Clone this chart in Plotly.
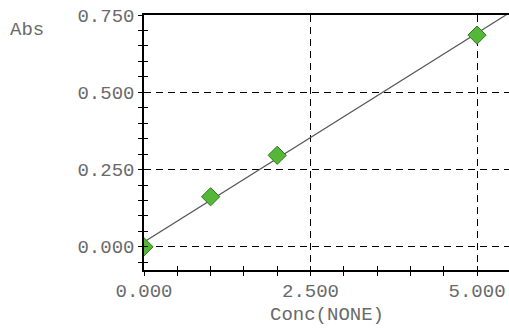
import numpy as np
import plotly.graph_objects as go

conc = [0.0, 1.0, 2.0, 5.0]
absorb = [0.0, 0.162, 0.296, 0.685]
x_ticks = [0.0, 2.5, 5.0]
y_ticks = [0.0, 0.25, 0.5, 0.75]
x_range = [0.0, 5.48]
y_range = [-0.075, 0.75]

slope, icpt = np.polyfit(conc, absorb, 1)
fit_x = [x_range[0], x_range[1]]
fit_y = [icpt + slope * v for v in fit_x]

FONT = "Liberation Mono"
GRAY = "#6a6a6a"
FS = 19

fig = go.Figure()
fig.add_trace(go.Scatter(x=fit_x, y=fit_y, mode="lines",
                         line=dict(color="#555555", width=1.2), hoverinfo="skip"))
fig.add_trace(go.Scatter(x=conc, y=absorb, mode="markers",
                         marker=dict(symbol="diamond", size=14, color="#55b63a",
                                     line=dict(color="#2f7a1c", width=1))))
fig.add_trace(go.Scatter(x=[None], y=[None], xaxis="x2", yaxis="y2", showlegend=False))

axcommon = dict(showline=True, linecolor="black", linewidth=1.5, zeroline=False,
                automargin=False, ticklabeloverflow="allow")
fig.update_layout(
    width=509, height=329,
    margin=dict(l=144, r=0, t=15, b=59, autoexpand=False),
    plot_bgcolor="white", paper_bgcolor="white",
    showlegend=False,
    font=dict(family=FONT, size=FS, color=GRAY),
    xaxis=dict(range=x_range, tickvals=x_ticks, tickformat=".3f",
               ticks="outside", ticklen=4, tickcolor="black",
               showgrid=True, gridcolor="black", griddash="7px,5px", gridwidth=1,
               minor=dict(dtick=0.5, tick0=0, ticks="outside", ticklen=4, tickcolor="black", showgrid=False),
               mirror=True, ticklabelstandoff=-2,
               tickfont=dict(family=FONT, size=FS, color=GRAY), **axcommon),
    yaxis=dict(range=y_range, tickvals=y_ticks, tickformat=".3f",
               ticks="outside", ticklen=4, tickcolor="black",
               showgrid=True, gridcolor="black", griddash="7px,5px", gridwidth=1,
               minor=dict(dtick=0.05, tick0=0, ticks="outside", ticklen=4, tickcolor="black", showgrid=False),
               tickfont=dict(family=FONT, size=FS, color=GRAY), **axcommon),
    xaxis2=dict(range=x_range, overlaying="x", side="bottom", tickvals=x_ticks,
                showticklabels=False, ticks="inside", ticklen=4, tickcolor="black",
                showgrid=False, zeroline=False, automargin=False,
                minor=dict(dtick=0.5, tick0=0, ticks="inside", ticklen=4, tickcolor="black")),
    yaxis2=dict(range=y_range, overlaying="y", side="left", tickvals=y_ticks,
                showticklabels=False, ticks="inside", ticklen=4, tickcolor="black",
                showgrid=False, zeroline=False, automargin=False,
                minor=dict(dtick=0.05, tick0=0, ticks="inside", ticklen=4, tickcolor="black")),
    annotations=[
        dict(text="Abs", xref="paper", yref="paper", x=-0.373, y=0.941,
             xanchor="left", yanchor="middle", showarrow=False,
             font=dict(family=FONT, size=FS, color=GRAY)),
        dict(text="Conc(NONE)", xref="paper", yref="paper", x=0.5, y=-0.176,
             xanchor="center", yanchor="middle", showarrow=False,
             font=dict(family=FONT, size=FS, color=GRAY)),
    ],
)
fig.write_html("out.html", config={"displayModeBar": False},
               post_script="document.body.style.margin='0';document.body.style.overflow='hidden';")
